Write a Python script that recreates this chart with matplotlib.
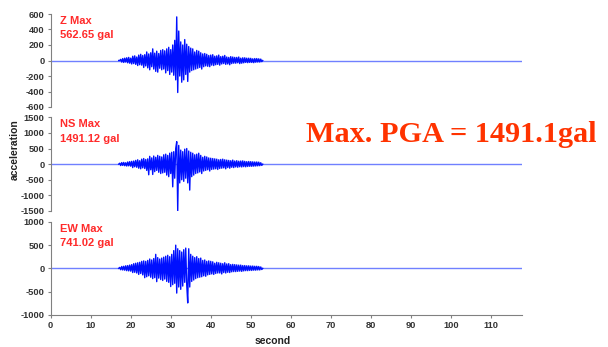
import numpy as np
from matplotlib import pyplot as plt

########################################################################
# Data (gal), sampled every 0.25 s from 17.0 s to 53.0 s
########################################################################

t_start = 17.0
t_step = 0.25

z_acc = [0,
    0, 15, -20, 25,   -25, 30, -20, 35,   -30, 40, -35, 30,
    -45, 55, -40, 60,   -50, 45, -65, 70,   -55, 80, -60, 65,
    -90, 75, -70, 110,   -95, 85, -120, 100,   -80, 150, -110, 95,
    -140, 120, -150, 90,   -100, 130, -120, 140,   -110, 125, -160, 150,
    -130, 170, -180, 140,   -150, 200, -190, 260,   -250, 562.65, -413, 380,
    -200, 240, -280, 200,   -250, 270, -180, 210,   -270, 180, -150, 160,
    -130, 150, -120, 110,   -110, 130, -100, 120,   -90, 100, -110, 85,
    -80, 90, -70, 80,   -75, 65, -80, 70,   -60, 75, -65, 55,
    -55, 60, -50, 70,   -60, 50, -45, 55,   -40, 65, -50, 45,
    -45, 40, -55, 50,   -40, 45, -35, 40,   -35, 40, -30, 45,
    -40, 30, -35, 35,   -30, 35, -25, 30,   -28, 30, -25, 28,
    -25, 22, -28, 25,   -22, 25, -20, 22,   -20, 18, -15, 0]

ns_acc = [0,
    30, -45, 50, -40,   55, -50, 45, -60,   70, -55, 80, -65,
    90, -110, 100, -85,   120, -100, 140, -130,   110, -150, 160, -120,
    180, -140, 150, -200,   170, -340, 250, -180,   200, -330, 260, -240,
    220, -200, 280, -260,   250, -300, 230, -280,   300, -260, 320, -350,
    280, -400, 350, -300,   380, -726, 400, -450,   500, 720, -1491.12, 600,
    -600, 450, -500, 400,   -550, 480, -450, 500,   -600, 420, -830, 380,
    -400, 350, -350, 300,   -300, 320, -280, 350,   -250, 280, -300, 220,
    -220, 250, -200, 230,   -180, 200, -220, 190,   -170, 180, -160, 170,
    -150, 160, -170, 140,   -140, 150, -130, 160,   -120, 140, -150, 130,
    -110, 120, -130, 110,   -100, 130, -110, 100,   -90, 110, -100, 95,
    -85, 100, -90, 105,   -80, 90, -85, 80,   -75, 85, -70, 80,
    -70, 75, -65, 70,   -60, 70, -55, 65,   -50, 45, -40, 0]

ew_acc = [0,
    20, -30, 40, -35,   45, -40, 55, -50,   60, -55, 70, -60,
    80, -90, 100, -85,   110, -100, 120, -130,   130, -110, 150, -140,
    160, -200, 150, -180,   170, -160, 200, -190,   180, -220, 210, -200,
    300, -285, 230, -210,   200, -240, 220, -260,   240, -230, 260, -280,
    280, -300, 250, -390,   300, -350, 380, -320,   497, -530, 420, -400,
    380, -450, 350, -380,   400, -300, 434, -350,   -741.02, 420, -400, 300,
    -280, 260, -250, 230,   -220, 250, -200, 210,   -190, 220, -180, 170,
    -160, 180, -170, 150,   -140, 160, -130, 150,   -120, 140, -130, 110,
    -110, 130, -100, 120,   -100, 110, -120, 100,   -90, 120, -100, 95,
    -85, 100, -90, 80,   -75, 85, -70, 80,   -70, 75, -65, 70,
    -60, 70, -65, 60,   -55, 60, -50, 55,   -50, 55, -45, 50,
    -45, 50, -40, 45,   -40, 45, -35, 40,   -35, 30, -25, 0]

panels = [
    ('Z Max', '562.65 gal', z_acc, [-600, -400, -200, 0, 200, 400, 600]),
    ('NS Max', '1491.12 gal', ns_acc, [-1500, -1000, -500, 0, 500, 1000, 1500]),
    ('EW Max', '741.02 gal', ew_acc, [-1000, -500, 0, 500, 1000]),
]
x_ticks = [0, 10, 20, 30, 40, 50, 60, 70, 80, 90, 100, 110]
pga_text = 'Max. PGA = 1491.1gal'

########################################################################
# Plot
########################################################################

W, H = 608, 347
fig = plt.figure(figsize=(W / 100, H / 100), dpi=100)

# pixel boxes: (top, bottom) of each panel
boxes = [(14, 107), (117.3, 211), (221.7, 315)]
left_px, right_px = 50.7, 522
label_tops = [15.5, 119.5, 224.5]

tick_font = dict(family='Liberation Sans', weight='bold', size=6.7)
red = '#ff2a2a'

for k, (name, value, acc, yt) in enumerate(panels):
    top, bot = boxes[k]
    ax = fig.add_axes([left_px / W, 1 - bot / H, (right_px - left_px) / W, (bot - top) / H])
    t = t_start + t_step * np.arange(len(acc))
    ax.axhline(0, color='#7080ff', lw=1.0, zorder=1)
    ax.plot(t, acc, color='#0010ff', lw=1.0, zorder=2)
    ax.set_xlim(0, 117.8)
    ax.set_ylim(yt[0], yt[-1])
    ax.set_yticks(yt)
    ax.set_yticklabels([str(v) for v in yt], fontdict=tick_font, color='#333333')
    for s in ['top', 'right']:
        ax.spines[s].set_visible(False)
    ax.spines['left'].set_color('#808080')
    ax.spines['left'].set_linewidth(0.8)
    ax.tick_params(axis='y', length=2.5, width=0.8, color='#808080', pad=2)
    if k < 2:
        ax.spines['bottom'].set_visible(False)
        ax.set_xticks([])
    else:
        ax.spines['bottom'].set_color('#808080')
        ax.spines['bottom'].set_linewidth(0.8)
        ax.set_xticks(x_ticks)
        ax.set_xticklabels([str(v) for v in x_ticks], fontdict=tick_font, color='#333333')
        ax.tick_params(axis='x', length=2.5, width=0.8, color='#808080', pad=2)
    ax.patch.set_visible(False)

    fig.text(60 / W, 1 - label_tops[k] / H, name, color=red, ha='left', va='top',
             family='Liberation Sans', weight='bold', size=8)
    fig.text(60 / W, 1 - (label_tops[k] + 14) / H, value, color=red, ha='left', va='top',
             family='Liberation Sans', weight='bold', size=8)

fig.text(15 / W, 1 - 150 / H, 'acceleration', rotation=90, ha='center', va='center',
         family='Liberation Sans', weight='bold', size=7.5, color='#222222')
fig.text(273 / W, 1 - 341 / H, 'second', ha='center', va='center',
         family='Liberation Sans', weight='bold', size=7.5, color='#222222')

fig.text(451.5 / W, 1 - 141.7 / H, pga_text, ha='center', va='baseline',
         family='Liberation Serif', weight='bold', size=21.8, color='#ff3300')

plt.savefig('out.png', dpi=100)
